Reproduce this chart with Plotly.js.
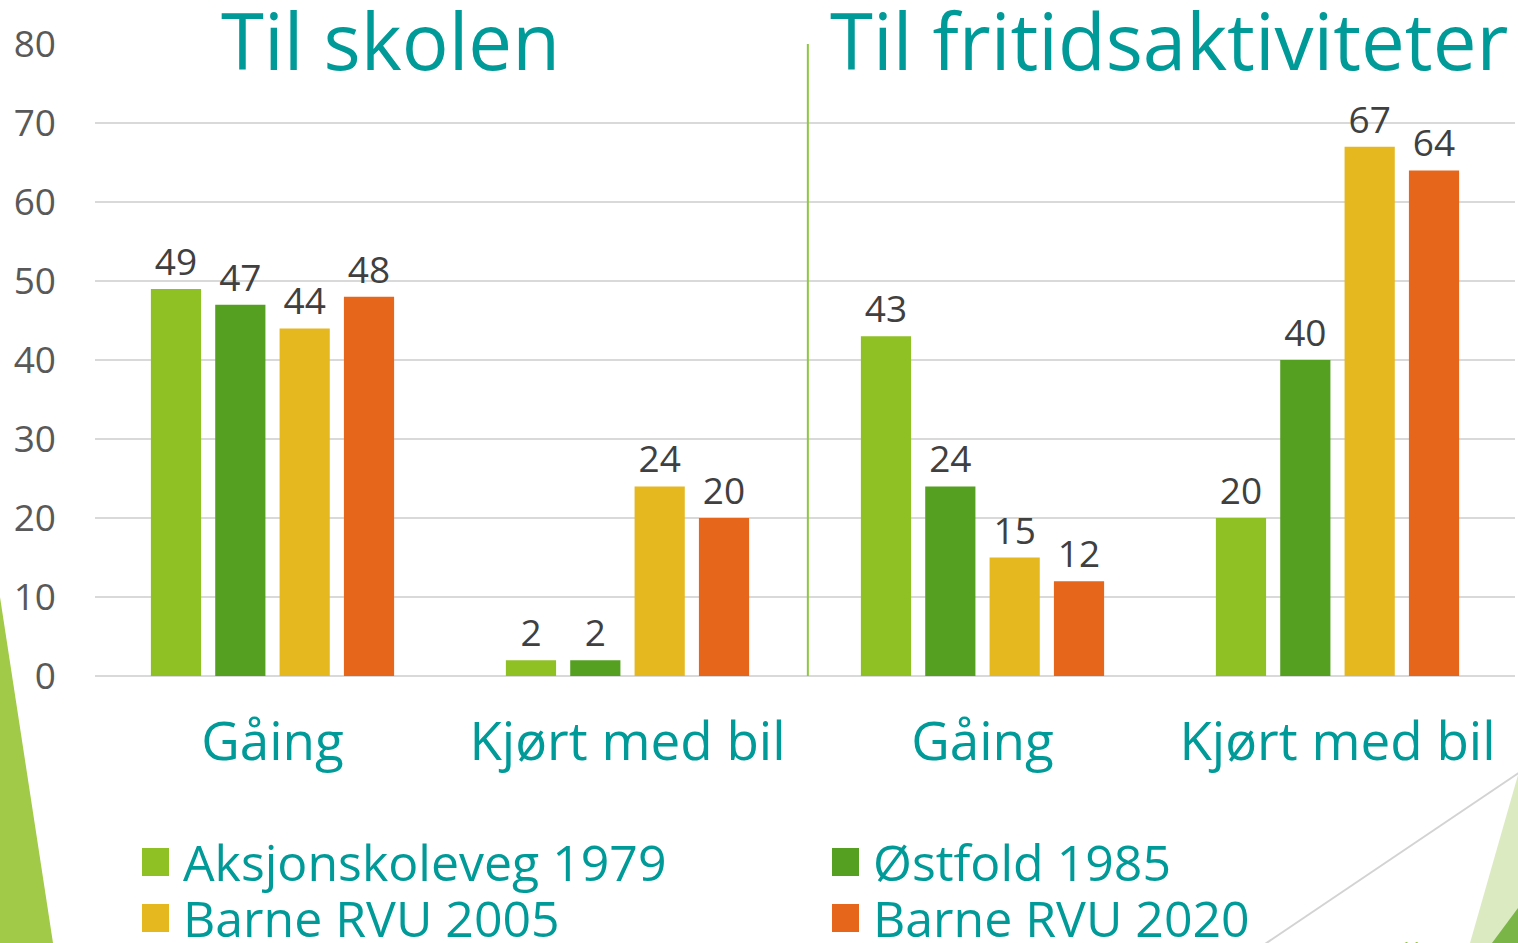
<!DOCTYPE html>
<html>
<head>
<meta charset="utf-8">
<script src="https://cdn.plot.ly/plotly-3.0.1.min.js"></script>
<style>
html,body{margin:0;padding:0;background:#fff;}
#chart{width:1518px;height:943px;}
</style>
</head>
<body>
<div id="chart"></div>
<script>
// ---- data ----
const categories = ["Gåing", "Kjørt med bil", "Gåing", "Kjørt med bil"];
const seriesNames = ["Aksjonskoleveg 1979", "Østfold 1985", "Barne RVU 2005", "Barne RVU 2020"];
const aksjonskoleveg1979 = [49, 2, 43, 20];
const ostfold1985 = [47, 2, 24, 40];
const barneRVU2005 = [44, 24, 15, 67];
const barneRVU2020 = [48, 20, 12, 64];
const sectionTitles = ["Til skolen", "Til fritidsaktiviteter"];
const yTicks = [0, 10, 20, 30, 40, 50, 60, 70, 80];

// ---- style ----
const colors = ["#8FC024", "#55A021", "#E5B820", "#E6661B"];
const teal = "#009A98";
const FONT = "Open Sans, Noto Sans, sans-serif";
const W = 1518, H = 943;
const M = {l: 95, r: 3, t: 44, b: 267};
const PW = W - M.l - M.r, PH = H - M.t - M.b;
const px = x => (x - M.l) / PW;
const py = y => (H - M.b - y) / PH;

const seriesValues = [aksjonskoleveg1979, ostfold1985, barneRVU2005, barneRVU2020];
const xIdx = categories.map((c, i) => i);

const traces = seriesValues.map((vals, k) => ({
  type: "bar",
  name: seriesNames[k],
  x: xIdx,
  y: vals,
  marker: {color: colors[k]},
  text: vals.map(String),
  textposition: "outside",
  textfont: {family: FONT, size: 37, color: "#404040"},
  cliponaxis: false,
  showlegend: false,
  hoverinfo: "x+y+name"
}));

const shapes = [];
const annotations = [];

// divider between sections
shapes.push({type: "line", xref: "x", yref: "y", x0: 1.508, x1: 1.508, y0: 0, y1: 80,
  line: {color: "#8DC63F", width: 2}, layer: "above"});

// section titles
const titleCenters = [390, 1169];
sectionTitles.forEach((t, i) => {
  annotations.push({text: t, xref: "paper", yref: "paper", x: px(titleCenters[i]), y: py(40),
    xanchor: "center", yanchor: "middle", showarrow: false, height: 78, valign: "middle",
    font: {family: FONT, size: 78, color: teal}});
});

// custom legend (2 columns)
const legPos = [[142, 862], [832, 862], [142, 918], [832, 918]];
seriesNames.forEach((n, k) => {
  const [lx, ly] = legPos[k];
  shapes.push({type: "rect", xref: "paper", yref: "paper",
    x0: px(lx), x1: px(lx + 27), y0: py(ly + 14), y1: py(ly - 14),
    fillcolor: colors[k], line: {width: 0}});
  annotations.push({text: n, xref: "paper", yref: "paper", x: px(lx + 39), y: py(ly),
    xanchor: "left", yanchor: "middle", showarrow: false,
    font: {family: FONT, size: 50, color: teal}});
});

// decorations
function poly(pts) { return "M" + pts.map(p => px(p[0]) + "," + py(p[1])).join(" L") + " Z"; }
shapes.push({type: "path", xref: "paper", yref: "paper", path: poly([[0, 597], [53, 943], [0, 943]]),
  fillcolor: "#A0CA48", line: {width: 0}, layer: "below"});
shapes.push({type: "line", xref: "paper", yref: "paper", x0: px(1265), y0: py(944), x1: px(1520), y1: py(772),
  line: {color: "#D3D3D3", width: 2}});
shapes.push({type: "path", xref: "paper", yref: "paper", path: poly([[1518, 775], [1470, 943], [1518, 943]]),
  fillcolor: "#DCEAC2", line: {width: 0}});
shapes.push({type: "path", xref: "paper", yref: "paper", path: poly([[1518, 908], [1492, 943], [1518, 943]]),
  fillcolor: "#7AB547", line: {width: 0}});
annotations.push({text: "11", xref: "paper", yref: "paper", x: px(1411), y: py(948),
  xanchor: "center", yanchor: "middle", showarrow: false,
  font: {family: FONT, size: 18, color: "#8DC63F"}});

const layout = {
  width: W, height: H,
  margin: M,
  paper_bgcolor: "#fff", plot_bgcolor: "#fff",
  barmode: "group",
  bargap: 0.275,
  bargroupgap: 0.22,
  font: {family: FONT},
  xaxis: {
    range: [-0.5, 3.5],
    tickvals: xIdx, ticktext: categories,
    tickfont: {family: FONT, size: 53, color: teal},
    showgrid: false, zeroline: false, showline: false,
    ticks: "", ticklabelstandoff: 30,
    fixedrange: true
  },
  yaxis: {
    range: [0, 80],
    tickvals: yTicks,
    tickfont: {family: FONT, size: 37, color: "#595959"},
    showgrid: true, gridcolor: "#D9D9D9", gridwidth: 2,
    zeroline: true, zerolinecolor: "#D9D9D9", zerolinewidth: 2,
    showline: false, ticks: "", ticklabelstandoff: 38,
    fixedrange: true
  },
  shapes: shapes,
  annotations: annotations,
  showlegend: false
};

Plotly.newPlot("chart", traces, layout, {displayModeBar: false, staticPlot: true});
</script>
</body>
</html>
